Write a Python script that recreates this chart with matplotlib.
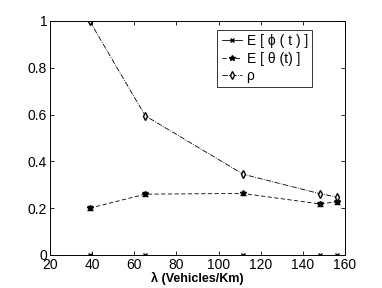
import matplotlib
matplotlib.use("Agg")
import matplotlib.pyplot as plt

# data
lam = [38.8, 65.2, 111.7, 148.1, 156.1]
e_phi = [0.0, 0.0, 0.0, 0.0, 0.0]
e_theta = [0.200, 0.260, 0.263, 0.218, 0.228]
e_theta_err = [0.008, 0.008, 0.008, 0.008, 0.008]
rho = [1.0, 0.595, 0.345, 0.262, 0.248]

plt.rcParams['font.family'] = ['Liberation Sans', 'DejaVu Sans']

fig = plt.figure(figsize=(3.82, 2.88), dpi=100)
ax = fig.add_axes([50/382, 1-255/288, 295/382, 234/288])

h1, = ax.plot(lam, e_phi, '-', color='k', marker='x', markersize=3, lw=0.6)
ax.errorbar(lam, e_theta, yerr=e_theta_err, fmt='none', ecolor='k', elinewidth=0.6, capsize=2)
h2, = ax.plot(lam, e_theta, '--', color='k', marker='*', markersize=4, lw=0.6, dashes=(5, 3))
h3, = ax.plot(lam, rho, '-.', color='k', marker='d', markersize=4, mfc='white', lw=0.6)

ax.set_xlim(20, 160)
ax.set_ylim(0, 1)
ax.set_xticks(range(20, 161, 20))
ax.set_yticks([0, 0.2, 0.4, 0.6, 0.8, 1])
ax.set_yticklabels(['0', '0.2', '0.4', '0.6', '0.8', '1'])
ax.tick_params(direction='in', top=True, right=True, labelsize=10, length=3, width=0.6, pad=2)
for s in ax.spines.values():
    s.set_linewidth(0.7)
ax.set_xlabel('λ (Vehicles/Km)', fontsize=9, fontweight='bold', labelpad=0)

leg = ax.legend([h1, h2, h3], ['E [ ϕ ( t ) ]', 'E [ θ (t) ]', 'ρ'],
                loc='upper right', bbox_to_anchor=(312/382, 1-30/288), bbox_transform=fig.transFigure,
                fontsize=10, frameon=True, fancybox=False, edgecolor='k', handlelength=1.5,
                borderaxespad=0, labelspacing=0.25, borderpad=0.3, handletextpad=0.3)
leg.get_frame().set_linewidth(0.7)

fig.savefig('out.png', dpi=100)
